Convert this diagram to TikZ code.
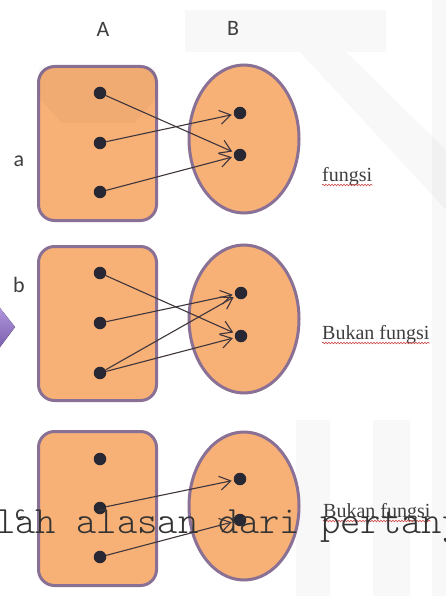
\documentclass[tikz,border=0pt]{standalone}
\usepackage{fontspec}
\newfontfamily\labelfont{Carlito}
\newfontfamily\notefont{Liberation Serif}
\newfontfamily\typewriter{Latin Modern Mono Light}
\usetikzlibrary{arrows.meta,decorations.pathmorphing,shapes.geometric}

\definecolor{setfill}{RGB}{247,176,118}
\definecolor{setedge}{RGB}{138,112,148}
\definecolor{dotcol}{RGB}{40,40,52}
\definecolor{arrowcol}{RGB}{62,54,60}
\definecolor{inkgrey}{RGB}{62,62,62}
\definecolor{wavered}{RGB}{205,70,70}
\definecolor{pointerlight}{RGB}{175,150,220}
\definecolor{pointerdark}{RGB}{125,95,175}

\tikzset{
  setbox/.style={rectangle, rounded corners=16pt, minimum width=118pt,
    minimum height=154pt, inner sep=0pt, draw=setedge, line width=3pt, fill=setfill},
  setoval/.style={ellipse, minimum width=110pt, minimum height=148pt,
    inner sep=0pt, draw=setedge, line width=3pt, fill=setfill},
  elem/.style={circle, fill=dotcol, minimum size=12.5pt, inner sep=0pt},
  maparrow/.style={draw=arrowcol, line width=1.1pt, shorten >=2pt,
    -{Straight Barb[length=11pt,width=14pt,line width=1.1pt]}},
  setname/.style={font=\labelfont\fontsize{22}{26}\selectfont, text=inkgrey,
    inner sep=0pt, anchor=base},
  verdict/.style={font=\notefont\fontsize{20}{24}\selectfont, text=inkgrey,
    inner sep=0pt, anchor=base west},
  spellwave/.style={draw=wavered, line width=0.6pt, decorate,
    decoration={snake, amplitude=0.8pt, segment length=3pt}},
  watermark/.style={fill=black, fill opacity=0.028, draw=none}
}

\begin{document}
\begin{tikzpicture}[x=1pt, y=-1pt]
  \useasboundingbox[fill=white] (0,0) rectangle (446,596);

  % faint background logo
  \fill[watermark] (185,10) -- (386,10) -- (386,52) -- (185,52) -- cycle;
  \fill[watermark] (300,52) -- (346,52) -- (446,150) -- (446,210) -- cycle;
  \fill[watermark] (432,0) rectangle (446,596);
  \fill[watermark] (296,420) rectangle (330,596);
  \fill[watermark] (373,420) rectangle (410,596);

  % side pointer
  \fill[top color=pointerlight, bottom color=pointerdark] (-6,308) -- (0,308) -- (15,327) -- (0,347) -- (-6,347) -- cycle;

  % column headings
  \node[setname] (hA) at (103,37) {A};
  \node[setname] (hB) at (233,36) {B};

  % ---------- case a ----------
  \node[setbox] (Aa) at (97.5,143.5) {};
  \node[setoval] (Ba) at (244,139) {};
  \fill[watermark] (39,67) -- (156,67) -- (156,98) -- (135,123) -- (62,123) -- (39,98) -- cycle;
  \node[elem] (a1) at (100,93) {};
  \node[elem] (a2) at (100,143) {};
  \node[elem] (a3) at (100,192) {};
  \node[elem] (a4) at (240,113) {};
  \node[elem] (a5) at (240,155) {};
  \draw[maparrow] (a1) -- (a5);
  \draw[maparrow] (a2) -- (a4);
  \draw[maparrow] (a3) -- (a5);
  \node[setname] (la) at (19,166) {a};
  \node[verdict] (va) at (322,181) {fungsi};
  \draw[spellwave] ([yshift=-4pt]va.base west) -- ([yshift=-4pt]va.base east);

  % ---------- case b ----------
  \node[setbox] (Ab) at (97.5,323.5) {};
  \node[setoval] (Bb) at (244,319) {};
  \node[elem] (b1) at (100,273) {};
  \node[elem] (b2) at (100,323) {};
  \node[elem] (b3) at (100,373) {};
  \node[elem] (b4) at (241,293) {};
  \node[elem] (b5) at (241,336) {};
  \draw[maparrow] (b1) -- (b5);
  \draw[maparrow] (b2) -- (b4);
  \draw[maparrow] (b3) -- (b4);
  \draw[maparrow] (b3) -- (b5);
  \node[setname] (lb) at (19,292) {b};
  \node[verdict] (vb) at (322,339) {Bukan fungsi};
  \draw[spellwave] ([yshift=-4pt]vb.base west) -- ([yshift=-4pt]vb.base east);

  % ---------- case c ----------
  \node[setbox] (Ac) at (97.5,508.5) {};
  \node[setoval] (Bc) at (244,506) {};
  \node[elem] (c1) at (100,459) {};
  \node[elem] (c2) at (100,508) {};
  \node[elem] (c3) at (100,557) {};
  \node[elem] (c4) at (240,479) {};
  \node[elem] (c5) at (240,520) {};
  \draw[maparrow] (c2) -- (c4);
  \draw[maparrow] (c3) -- (c5);
  \node[setname] (lc) at (20,520) {c};
  \node[verdict] (vc) at (323,517) {Bukan fungsi};
  \draw[spellwave] ([yshift=-4pt]vc.base west) -- ([yshift=-4pt]vc.base east);

  % overprinted typewriter line
  \node[anchor=base west, inner sep=0pt, text=black!80,
        font=\typewriter\fontsize{38.7}{40}\selectfont] (tw) at (-5,533) {lah alasan dari pertany};
\end{tikzpicture}
\end{document}
